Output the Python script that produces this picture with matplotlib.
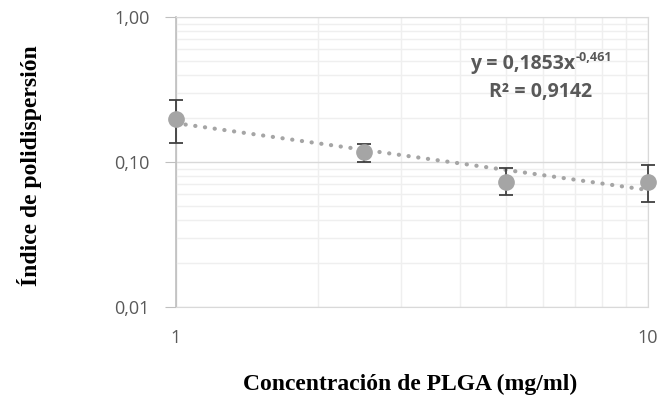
import matplotlib.pyplot as plt
import numpy as np
from matplotlib.ticker import FixedLocator, FuncFormatter, LogLocator, NullFormatter

# data
conc = [1, 2.5, 5, 10]
pdi = [0.198, 0.117, 0.073, 0.073]
err_low = [0.063, 0.017, 0.014, 0.020]
err_high = [0.070, 0.017, 0.018, 0.022]

# trend line coefficients (power fit shown on the chart)
fit_a = 0.1853
fit_b = -0.461

fig = plt.figure(figsize=(6.61, 4.05), dpi=100)
ax = fig.add_axes([0.266, 0.242, 0.714, 0.716])

ax.set_xscale('log')
ax.set_yscale('log')
ax.set_xlim(1, 10)
ax.set_ylim(0.01, 1)

# grid
ax.xaxis.set_minor_locator(LogLocator(base=10, subs=np.arange(2, 10)))
ax.yaxis.set_minor_locator(LogLocator(base=10, subs=np.arange(2, 10)))
ax.xaxis.set_minor_formatter(NullFormatter())
ax.yaxis.set_minor_formatter(NullFormatter())
ax.grid(True, which='minor', color='#efefef', linewidth=1.0)
ax.grid(True, which='major', color='#d9d9d9', linewidth=1.0)
ax.set_axisbelow(True)

for s in ['top', 'right']:
    ax.spines[s].set_color('#d9d9d9')
ax.spines['left'].set_color('#bfbfbf')
ax.spines['bottom'].set_color('#d9d9d9')
ax.spines['left'].set_linewidth(1.2)

ax.xaxis.set_major_locator(FixedLocator([1, 10]))
ax.yaxis.set_major_locator(FixedLocator([0.01, 0.1, 1]))
ax.xaxis.set_major_formatter(FuncFormatter(lambda v, p: '%d' % v))
ax.yaxis.set_major_formatter(FuncFormatter(lambda v, p: ('%.2f' % v).replace('.', ',')))
ax.tick_params(axis='y', which='major', length=8, color='#bfbfbf', labelsize=13,
               labelcolor='#595959', pad=11)
ax.tick_params(axis='x', which='major', length=0, labelsize=13, labelcolor='#595959', pad=16)
ax.tick_params(which='minor', length=0)
for lab in ax.get_xticklabels() + ax.get_yticklabels():
    lab.set_family('Open Sans')

# trend line
xt = np.linspace(1, 10, 200)
ax.plot(xt, fit_a * xt ** fit_b, color='#a5a5a5', linestyle=(0, (0.05, 2.3)),
        linewidth=3.0, dash_capstyle='round', zorder=2)

ax.errorbar(conc, pdi, yerr=[err_low, err_high], fmt='o', color='#a5a5a5',
            markersize=11, ecolor='#404040', elinewidth=1.3, capsize=5,
            capthick=1.3, clip_on=False, zorder=3)

eq = ax.text(0.735, 0.838, 'y = 0,1853x', transform=ax.transAxes,
             ha='center', va='center', fontsize=14, fontweight='bold', color='#595959',
             family='Open Sans')
ax.annotate('-0,461', xy=(1.0, 1.0), xycoords=eq, xytext=(0.5, 2),
            textcoords='offset points', ha='left', va='top', fontsize=9,
            fontweight='bold', color='#595959', family='Open Sans')
ax.text(0.773, 0.741, 'R² = 0,9142', transform=ax.transAxes,
        ha='center', va='center', fontsize=14, fontweight='bold', color='#595959',
        family='Open Sans')

fig.text(0.045, 0.59, 'Índice de polidispersión', rotation=90, ha='center', va='center',
         fontsize=17, fontweight='bold', family='Liberation Serif')
fig.text(0.62, 0.05, 'Concentración de PLGA (mg/ml)', ha='center', va='center',
         fontsize=17, fontweight='bold', family='Liberation Serif')

fig.savefig('out.png', dpi=100)
